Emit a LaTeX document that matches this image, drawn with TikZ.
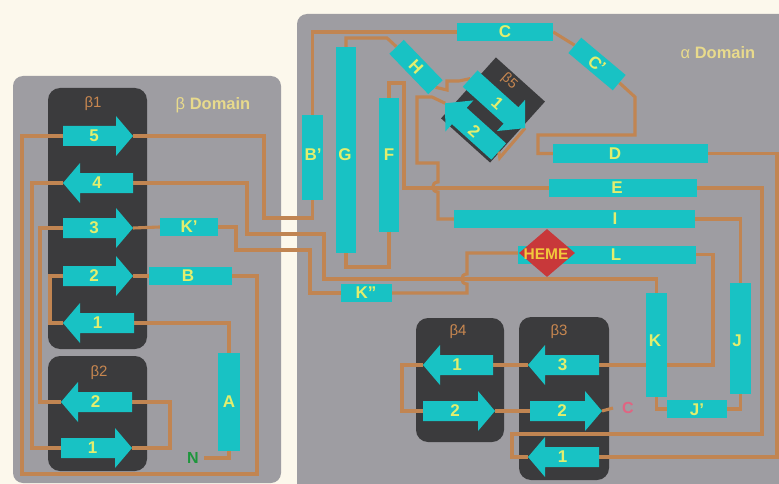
\documentclass[tikz,border=0pt]{standalone}
\usepackage{fontspec}
\setmainfont{Liberation Sans}
\usetikzlibrary{shapes.geometric}
\pgfdeclarelayer{back}
\pgfdeclarelayer{lines}
\pgfsetlayers{back,lines,main}
\definecolor{bgc}{RGB}{252,248,236}
\definecolor{panelc}{RGB}{158,157,162}
\definecolor{darkc}{RGB}{59,59,61}
\definecolor{cyanc}{RGB}{24,194,196}
\definecolor{linec}{RGB}{193,133,82}
\definecolor{labc}{RGB}{226,238,110}
\definecolor{domc}{RGB}{232,218,140}
\definecolor{betac}{RGB}{200,135,80}
\definecolor{hemec}{RGB}{200,56,58}
\definecolor{hemetxt}{RGB}{242,200,60}
\definecolor{nc}{RGB}{30,150,60}
\definecolor{cc}{RGB}{225,100,130}
\tikzset{
  ln/.style={draw=linec, line width=3.1pt},
  box/.style 2 args={fill=cyanc, inner sep=0pt, minimum width=#1, minimum height=#2},
  lab/.style={text=labc, font=\bfseries\fontsize{17}{17}\selectfont, inner sep=0pt},
  blab/.style={text=betac, font=\fontsize{15}{15}\selectfont, inner sep=0pt},
  dom/.style={text=domc, font=\bfseries\fontsize{16.5}{16.5}\selectfont, inner sep=0pt},
  darkbox/.style={fill=darkc, rounded corners=12pt},
}
% right-pointing strand: name, x-left, x-tip, y, label
\newcommand\sheetR[5]{%
  \fill[cyanc] ({#2},{#4-10}) -- ({#3-17},{#4-10}) -- ({#3-17},{#4-20}) -- ({#3},{#4}) -- ({#3-17},{#4+20}) -- ({#3-17},{#4+10}) -- ({#2},{#4+10}) -- cycle;
  \coordinate (#1l) at ({#2},{#4});
  \coordinate (#1r) at ({#3},{#4});
  \node[lab] (#1) at ({(#2+#3)/2-4},{#4}) {#5};
}
% left-pointing strand: name, x-tip, x-right, y, label
\newcommand\sheetL[5]{%
  \fill[cyanc] ({#3},{#4-10}) -- ({#2+17},{#4-10}) -- ({#2+17},{#4-20}) -- ({#2},{#4}) -- ({#2+17},{#4+20}) -- ({#2+17},{#4+10}) -- ({#3},{#4+10}) -- cycle;
  \coordinate (#1l) at ({#2},{#4});
  \coordinate (#1r) at ({#3},{#4});
  \node[lab] (#1) at ({(#2+#3)/2-1},{#4}) {#5};
}
\begin{document}
\begin{tikzpicture}[x=1pt,y=-1pt]
\useasboundingbox (0,0) rectangle (779,484);
\begin{pgfonlayer}{back}
  \fill[bgc] (0,0) rectangle (779,484);
  \fill[panelc, rounded corners=10pt] (13,76) rectangle (281,483);
  \fill[panelc] (297,484) -- (297,24) .. controls (297,18.5) and (301.5,14) .. (307,14) -- (779,14) -- (779,484) -- cycle;
  \fill[darkbox] (48,88) rectangle (147,349);
  \fill[darkbox] (48,356) rectangle (147,471);
  \fill[darkbox] (416,318) rectangle (504,442);
  \fill[darkbox] (519,317) rectangle (609,480);
\end{pgfonlayer}

% helices
\node[box={58}{18}] (Kp) at (189,227) {};
\node[box={83}{18}] (B) at (190.5,276) {};
\node[box={22}{98}] (A) at (229,402) {};
\node[box={21}{85}] (Bp) at (312.5,157.5) {};
\node[box={20}{206}] (G) at (346,150) {};
\node[box={20}{134}] (F) at (389,165) {};
\node[box={96}{18}] (C) at (505,32) {};
\node[box={155}{19}] (D) at (630.5,153.5) {};
\node[box={148}{18}] (E) at (623,188) {};
\node[box={241}{18}] (I) at (574.5,219) {};
\node[box={178}{18}] (L) at (607,254.5) {};
\node[box={51}{18}] (Kpp) at (366.5,293) {};
\node[box={21}{104}] (K) at (656.5,345) {};
\node[box={21}{111}] (J) at (740.5,338.5) {};
\node[box={60}{18}] (Jp) at (697,409) {};
\node[box={56}{20}, rotate=-46] (H) at (416,67) {};
\node[box={58}{20}, rotate=-40] (Cp) at (597,64) {};
\node[diamond, fill=hemec, minimum width=56pt, minimum height=48pt, inner sep=0pt] (heme) at (547,253) {};

% helix labels
\node[lab] (Kpt) at (189,227) {K'};
\node[lab] (Bt) at (188,276) {B};
\node[lab] (At) at (229,402) {A};
\node[lab] (Bpt) at (313,155) {B'};
\node[lab] (Gt) at (345,155) {G};
\node[lab] (Ft) at (389,155) {F};
\node[lab] (Ct) at (505,32) {C};
\node[lab, rotate=-46] (Ht) at (416,67) {H};
\node[lab, rotate=-40] (Cpt) at (597,64) {C'};
\node[lab] (Dt) at (615,153.5) {D};
\node[lab] (Et) at (617,188) {E};
\node[lab] (It) at (615,219) {I};
\node[lab] (Lt) at (616,255) {L};
\node[lab] (Kppt) at (366,293) {K''};
\node[lab] (Kt) at (655,341) {K};
\node[lab] (Jt) at (737,341) {J};
\node[lab] (Jpt) at (697,410) {J'};
\node[text=hemetxt, font=\bfseries\fontsize{15.5}{15.5}\selectfont, inner sep=0pt] (hemet) at (546,254) {HEME};

% strands
\sheetR{b15}{63}{133}{136}{5}
\sheetL{b14}{63}{133}{183}{4}
\sheetR{b13}{63}{133}{228}{3}
\sheetR{b12}{63}{133}{276}{2}
\sheetL{b11}{63}{134}{323}{1}
\sheetL{b22}{61}{132}{402}{2}
\sheetR{b21}{61}{132}{448}{1}
\sheetL{b41}{423}{493}{365}{1}
\sheetR{b42}{423}{495}{411}{2}
\sheetL{b33}{528}{599}{365}{3}
\sheetR{b32}{530}{602}{411}{2}
\sheetL{b31}{528}{599}{457}{1}

% beta5 sheet
\begin{scope}[shift={(493,110)}, rotate=-42]
  \begin{pgfonlayer}{back}
    \fill[darkc] (-33,-41) -- (33,-41) -- (33,41) -- (-33,41) -- cycle;
  \end{pgfonlayer}
  \fill[cyanc] (-38,-19) -- (17,-19) -- (17,-29) -- (36,-8) -- (17,13) -- (17,3) -- (-38,3) -- cycle;
  \fill[cyanc] (32,16) -- (-21,16) -- (-21,6) -- (-40,27) -- (-21,48) -- (-21,38) -- (32,38) -- cycle;
  \coordinate (s1tail) at (-38,-8);
  \coordinate (s1tip) at (36,-8);
  \coordinate (s1corner) at (37,31);
  \coordinate (s2end) at (32,27);
  \coordinate (s2tip) at (-40,27);
  \node[lab, rotate=-42] (s1) at (-1,-8) {1};
  \node[lab, rotate=-42] (s2) at (0,28) {2};
  \node[blab, font=\fontsize{14}{14}\selectfont, rotate=-42] (lb5) at (-7,-32) {β5};
\end{scope}

% texts
\node[dom] (bdom) at (213,105) {{\mdseries β} Domain};
\node[dom] (adom) at (718,53) {{\mdseries α} Domain};
\node[blab] (lb1) at (93,104) {β1};
\node[blab] (lb2) at (99,373) {β2};
\node[blab] (lb4) at (458,332) {β4};
\node[blab] (lb3) at (559,332) {β3};
\node[text=nc, font=\bfseries\fontsize{16}{16}\selectfont, inner sep=0pt] (N) at (193,458) {N};
\node[text=cc, font=\bfseries\fontsize{16}{16}\selectfont, inner sep=0pt] (Cend) at (628,408) {C};

% connectors
\begin{pgfonlayer}{lines}
  \draw[ln] (b11r) -| (A.north);
  \draw[ln] (A.south) |- ([xshift=5pt]N.east);
  \draw[ln] (b11l) -- (50,323) |- (b12l);
  \draw[ln] (b12r) -- (B.west);
  \draw[ln] (B.east) -- (257,276) -- (257,474) -- (22,474) |- (b15l);
  \draw[ln] (b15r) -- (264,136) -- (264,218) -| (Bp.south);
  \draw[ln] (C.west) -| (Bp.north);
  \draw[ln] (C.east) -- (Cp.west);
  \draw[ln] (Cp.east) -- (635,97) -- (635,135) -- (538,135) |- (D.west);
  \draw[ln] (D.east) -- (777,153.5) |- (b31r);
  \draw[ln] (E.east) -- (762,188) -- (762,434) -- (512,434) |- (b31l);
  \draw[ln] (F.north) -- (389,83) -- (404,83) |- (E.west);
  \draw[ln] (G.south) -- (346,267) -| (F.south);
  \draw[ln] (G.north) -- (346,38) -- (387,38) -- (H.west);
  \draw[ln] (H.east) -- (447,90) -- (447,81) -- (459,81) -- (s1tail);
  \draw[ln] (s1tip) -- (s1corner) -- (s2end);
  \draw[ln] (s2tip) -- (432,97) -- (417,97) -- (417,163) -- (438,163) -- (438,182) .. controls (431,182) and (431,192) .. (438,192) |- (I.west);
  \draw[ln] (I.east) -| (J.north);
  \draw[ln] (J.south) |- (Jp.east);
  \draw[ln] (Jp.west) -| (K.south);
  \draw[ln] (b14r) -- (247,183) -- (247,234) -- (324,234) -- (324,279) -| (K.north);
  \draw[ln] (b14l) -- (32,183) |- (b21l);
  \draw[ln] (b21r) -- (170,448) |- (b22r);
  \draw[ln] (b22l) -- (40,402) |- (b13l);
  \draw[ln] (b13r) -- (Kp.west);
  \draw[ln] (Kp.east) -- (236,227) -- (236,250) -- (310,250) |- (Kpp.west);
  \draw[ln] (Kpp.east) -- (467,293) -- (467,284) .. controls (460,284) and (460,274) .. (467,274) |- (heme.west);
  \draw[ln] (L.east) -- (713,254.5) |- (b33r);
  \draw[ln] (b33l) -- (b41r);
  \draw[ln] (b41l) -- (402,365) |- (b42l);
  \draw[ln] (b42r) -- (b32l);
  \draw[ln] (b32r) -- ([xshift=-9pt]Cend.west);
\end{pgfonlayer}
\end{tikzpicture}
\end{document}
